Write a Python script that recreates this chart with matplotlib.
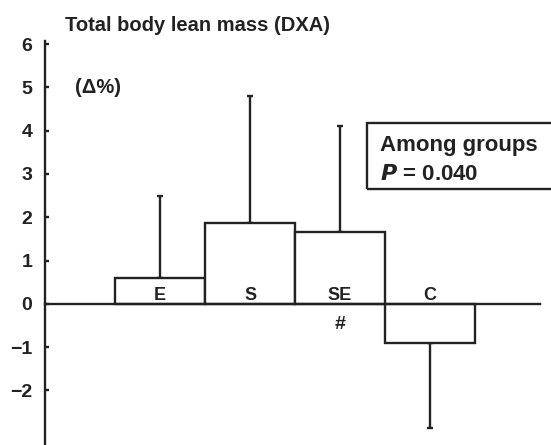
"""total body lean mass change by group, bar chart with one-sided error bars"""

import matplotlib
matplotlib.use("Agg")
import matplotlib.pyplot as plt

plt.rcParams['font.family'] = ['Liberation Sans', 'DejaVu Sans']

# group data (delta %)
GROUPS = ["E", "S", "SE", "C"]
MEANS = [0.6, 1.87, 1.67, -0.9]
ERRORS = [1.88, 2.92, 2.43, 1.97]
YTICKS = [-2, -1, 0, 1, 2, 3, 4, 5, 6]

INK = "#222222"
LW = 1.7

fig = plt.figure(figsize=(5.51, 4.45), dpi=100)
ax = fig.add_axes([45 / 551, 0.0, (540 - 45) / 551, 1 - 41 / 445])

pos = [1, 2, 3, 4]
ax.bar(pos, MEANS, width=1.0, color="white", edgecolor=INK, linewidth=LW, zorder=2)

# error bars only in direction of the mean
for x, m, e in zip(pos, MEANS, ERRORS):
    lo, hi = (0, e) if m >= 0 else (e, 0)
    ax.errorbar(x, m, yerr=[[lo], [hi]], fmt="none", ecolor=INK,
                elinewidth=LW, capsize=2.5, capthick=LW, zorder=1)

for x, g in zip(pos, GROUPS):
    ax.text(x, 0.1, g, ha="center", va="baseline", fontsize=13, fontweight="bold", color=INK)
ax.text(3, -0.47, "#", ha="center", va="center", fontsize=14, fontweight="bold", color=INK)

ax.set_xlim(-0.278, 5.222)
ax.set_ylim(-3.26, 6.07)
ax.set_yticks(YTICKS)
ax.set_xticks([])

for s in ["top", "right"]:
    ax.spines[s].set_visible(False)
ax.spines["bottom"].set_position(("data", 0))
for s in ["bottom", "left"]:
    ax.spines[s].set_linewidth(LW)
    ax.spines[s].set_color(INK)
ax.tick_params(axis="y", direction="in", length=3, width=LW, color=INK,
               labelsize=14, pad=9, labelcolor=INK)
for lab in ax.get_yticklabels():
    lab.set_fontweight("bold")

fig.text(65 / 551, 1 - 31 / 445, "Total body lean mass (DXA)", fontsize=14.5,
         fontweight="bold", color=INK, va="baseline")
ax.text(0.05, 5.0, "(\u0394%)", fontsize=14.5, fontweight="bold", color=INK, va="center")

fig.text(380 / 551, 1 - 151 / 445, "Among groups", fontsize=16, fontweight="bold",
         color=INK, va="baseline")
fig.text(380 / 551, 1 - 180 / 445, r"$\mathbfit{P}$ = 0.040", fontsize=16,
         fontweight="bold", color=INK, va="baseline")
box = plt.Rectangle((367 / 551, 1 - 189 / 445), 200 / 551, 66 / 445, transform=fig.transFigure,
                    fill=False, edgecolor=INK, linewidth=LW, clip_on=False)
fig.add_artist(box)

fig.savefig("out.png", dpi=100)
